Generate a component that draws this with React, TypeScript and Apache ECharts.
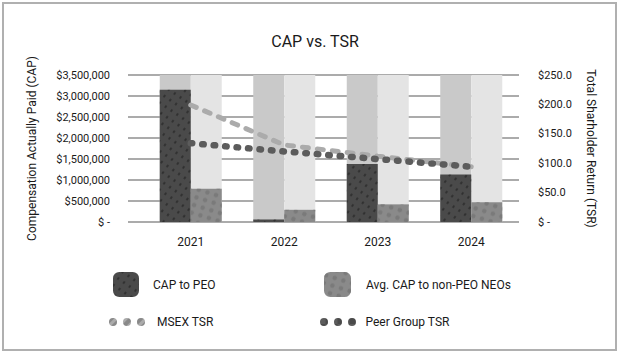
import { useEffect, useRef } from "react";
import * as echarts from "echarts";

const years = ["2021", "2022", "2023", "2024"];
const capToPeo = [3150000, 60000, 1380000, 1130000];
const capToNonPeo = [790000, 290000, 420000, 470000];
const msexTsr = [199, 131, 112, 94];
const peerTsr = [134, 120, 107, 94];

const FONT = 'Roboto, "Liberation Sans", sans-serif';
const TXT = "#1a1a1a";

const dotsIcon =
  "path://M0,4a4,4 0 1,0 8,0a4,4 0 1,0 -8,0z M14,4a4,4 0 1,0 8,0a4,4 0 1,0 -8,0z M28,4a4,4 0 1,0 8,0a4,4 0 1,0 -8,0z";

export default function App() {
  const ref = useRef<HTMLDivElement>(null);
  useEffect(() => {
    if (!ref.current) return;
    const chart = echarts.init(ref.current, undefined, { renderer: "svg" });
    const leftFmt = (v: number) => (v === 0 ? "$ -" : "$" + v.toLocaleString("en-US"));
    const rightFmt = (v: number) => (v === 0 ? "$ -" : "$" + v.toFixed(1));
    const legendText = (pad: number) => ({
      fontSize: 12,
      color: TXT,
      fontFamily: FONT,
      padding: [0, 0, 0, pad],
    });
    chart.setOption({
      animation: false,
      aria: { enabled: true, decal: { show: true } },
      textStyle: { fontFamily: FONT },
      title: {
        text: "CAP vs. TSR",
        left: 310,
        top: 28,
        textAlign: "center",
        textStyle: { fontSize: 16, fontWeight: "normal", color: TXT, fontFamily: FONT },
      },
      graphic: [
        {
          type: "rect",
          shape: { x: 3, y: 3, width: 613, height: 347 },
          style: { fill: "none", stroke: "#b0b0b0", lineWidth: 2 },
          silent: true,
        },
      ],
      grid: [
        { left: 144, width: 374, top: 75, height: 147 },
        { left: 128, width: 391, top: 75, height: 147 },
      ],
      xAxis: [
        {
          type: "category",
          gridIndex: 0,
          data: years,
          axisLine: { show: false },
          axisTick: { show: false },
          axisLabel: { margin: 14, fontSize: 12, color: TXT, fontFamily: FONT },
        },
        { type: "value", gridIndex: 1, show: false, min: 0, max: 1 },
      ],
      yAxis: [
        { type: "value", gridIndex: 0, min: 0, max: 3500000, interval: 500000, show: false },
        { type: "value", gridIndex: 0, min: 0, max: 250, interval: 50, show: false, position: "right" },
        {
          type: "value",
          gridIndex: 1,
          min: 0,
          max: 3500000,
          interval: 500000,
          position: "left",
          name: "Compensation Actually Paid (CAP)",
          nameLocation: "middle",
          nameGap: 90,
          nameTextStyle: { fontSize: 12, color: TXT, fontFamily: FONT },
          axisLabel: { formatter: leftFmt, margin: 18, fontSize: 11, color: TXT, fontFamily: FONT },
          axisLine: { show: false },
          axisTick: { show: false },
          splitLine: { lineStyle: { color: "#ababab", width: 2 } },
        },
        {
          type: "value",
          gridIndex: 1,
          min: 0,
          max: 250,
          interval: 50,
          position: "right",
          name: "Total Sharholder Return (TSR)",
          nameLocation: "middle",
          nameRotate: -90,
          nameGap: 66,
          nameTextStyle: { fontSize: 12, color: TXT, fontFamily: FONT },
          axisLabel: { formatter: rightFmt, margin: 19, fontSize: 11, color: TXT, fontFamily: FONT },
          axisLine: { show: false },
          axisTick: { show: false },
          splitLine: { show: false },
        },
      ],
      legend: [
        {
          data: ["CAP to PEO"],
          left: 113,
          top: 272,
          padding: 0,
          itemWidth: 26,
          itemHeight: 25,
          textStyle: legendText(9),
        },
        {
          data: ["Avg. CAP to non-PEO NEOs"],
          left: 324,
          top: 272,
          padding: 0,
          itemWidth: 27,
          itemHeight: 25,
          textStyle: legendText(10),
        },
        {
          data: [{ name: "MSEX TSR", icon: dotsIcon }],
          left: 109,
          top: 316,
          padding: 0,
          itemWidth: 36,
          itemHeight: 8,
          itemStyle: { borderWidth: 0 },
          textStyle: legendText(7),
        },
        {
          data: [{ name: "Peer Group TSR", icon: dotsIcon }],
          left: 320,
          top: 316,
          padding: 0,
          itemWidth: 37,
          itemHeight: 8,
          itemStyle: { borderWidth: 0 },
          textStyle: legendText(4),
        },
      ],
      series: [
        {
          name: "CAP to PEO",
          type: "bar",
          xAxisIndex: 0,
          yAxisIndex: 0,
          data: capToPeo,
          barWidth: 31,
          barGap: "0%",
          showBackground: true,
          backgroundStyle: { color: "#c9c9c9" },
          itemStyle: {
            color: "#4a4a4a",
            decal: {
              symbol: "rect",
              color: "rgba(10,10,10,0.85)",
              symbolSize: 0.5,
              dashArrayX: [2, 5],
              dashArrayY: [5, 3],
              rotation: 0.6,
            },
          },
        },
        {
          name: "Avg. CAP to non-PEO NEOs",
          type: "bar",
          xAxisIndex: 0,
          yAxisIndex: 0,
          data: capToNonPeo,
          barWidth: 31,
          barGap: "0%",
          showBackground: true,
          backgroundStyle: { color: "#e4e4e4" },
          itemStyle: {
            color: "#8a8a8a",
            decal: {
              symbol: "circle",
              color: "rgba(120,120,120,0.9)",
              symbolSize: 0.9,
              dashArrayX: [6, 3],
              dashArrayY: [5, 3],
              rotation: 0.3,
            },
          },
        },
        {
          name: "MSEX TSR",
          type: "line",
          xAxisIndex: 0,
          yAxisIndex: 1,
          data: msexTsr,
          symbol: "none",
          color: "#ababab",
          itemStyle: { color: "#ababab", decal: "none" },
          lineStyle: { color: "#ababab", width: 5, type: [6, 9], cap: "round" },
          z: 5,
        },
        {
          name: "Peer Group TSR",
          type: "line",
          xAxisIndex: 0,
          yAxisIndex: 1,
          data: peerTsr,
          symbol: "none",
          color: "#5c5c5c",
          itemStyle: { color: "#5c5c5c", decal: "none" },
          lineStyle: { color: "#5c5c5c", width: 6.5, type: [1.5, 10], cap: "round" },
          z: 6,
        },
      ],
    });
    return () => chart.dispose();
  }, []);
  return (
    <div
      ref={ref}
      style={{ position: "absolute", left: 0, top: 0, width: 620, height: 355, background: "#fff" }}
    />
  );
}
